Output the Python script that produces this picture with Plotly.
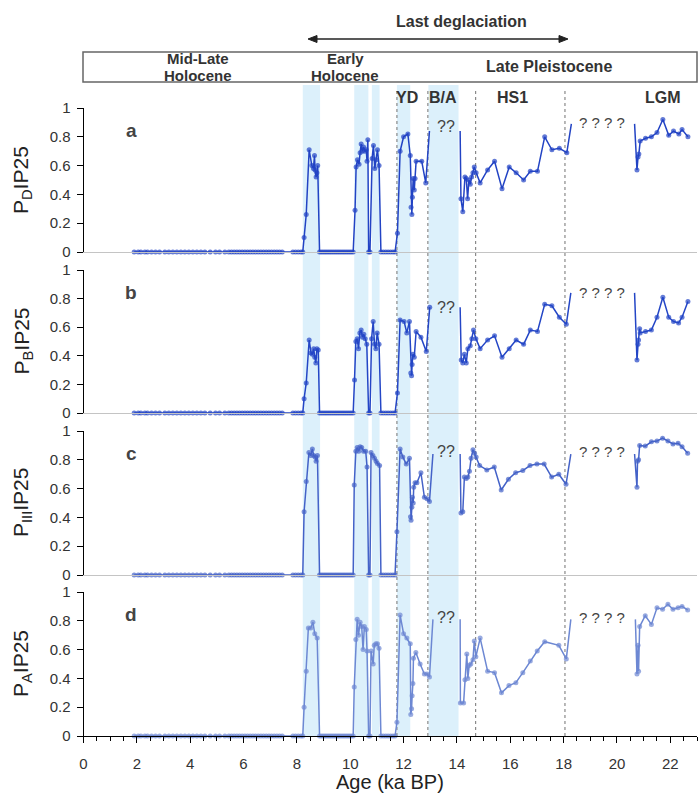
import plotly.graph_objects as go

W, H = 699, 794

# ---------------- data (ages in ka BP) ----------------
zero_age_1 = [1.9, 2.05, 2.15, 2.3, 2.4, 2.55, 2.7, 2.85, 3.05, 3.2, 3.35, 3.5, 3.65, 3.8, 3.95,
              4.1, 4.25, 4.4, 4.55, 4.75, 4.95, 5.1, 5.3, 5.45, 5.55, 5.65, 5.75, 5.85, 5.95,
              6.05, 6.15, 6.25, 6.35, 6.45, 6.55, 6.65, 6.75, 6.85, 6.95, 7.05, 7.15, 7.25,
              7.35, 7.45, 7.85, 7.95, 8.05, 8.15, 8.22]
zero_age_2 = [8.85, 8.92, 8.99, 9.06, 9.13, 9.2, 9.27, 9.34, 9.41, 9.48, 9.55, 9.62, 9.69,
              9.76, 9.83, 9.9, 9.97, 10.04, 10.11]
zero_age_3 = [10.69, 10.74]
zero_age_4 = [11.15, 11.24, 11.33, 11.42, 11.51, 11.6, 11.68]

# Panel a: PDIP25
a_p1_age = [8.27, 8.35, 8.46, 8.56, 8.62, 8.66, 8.68, 8.72, 8.75, 8.78]
a_p1_val = [0.10, 0.26, 0.71, 0.60, 0.58, 0.67, 0.57, 0.52, 0.55, 0.60]
a_p2_age = [10.18, 10.22, 10.27, 10.33, 10.37, 10.41, 10.45, 10.50, 10.55, 10.60, 10.63, 10.66]
a_p2_val = [0.29, 0.59, 0.64, 0.61, 0.69, 0.75, 0.70, 0.73, 0.70, 0.71, 0.63, 0.78]
a_p3_age = [10.82, 10.87, 10.92, 10.97, 11.02, 11.08]
a_p3_val = [0.65, 0.74, 0.58, 0.64, 0.71, 0.60]
a_yd_age = [11.77, 11.87, 12.00, 12.16, 12.25, 12.28, 12.31, 12.33, 12.36, 12.40, 12.43, 12.47,
            12.68, 12.83, 12.97]
a_yd_val = [0.13, 0.70, 0.80, 0.82, 0.67, 0.31, 0.26, 0.38, 0.51, 0.43, 0.51, 0.63, 0.63, 0.48, 0.84]
a_hs_age = [14.12, 14.15, 14.22, 14.30, 14.35, 14.40, 14.45, 14.50, 14.55, 14.60, 14.65, 14.72,
            14.87, 15.15, 15.41, 15.69, 15.96, 16.22, 16.50, 16.75, 17.02, 17.29, 17.56, 17.84,
            18.12, 18.29]
a_hs_val = [0.84, 0.37, 0.28, 0.52, 0.51, 0.37, 0.50, 0.47, 0.52, 0.55, 0.59, 0.55, 0.48, 0.57,
            0.63, 0.44, 0.59, 0.55, 0.50, 0.56, 0.56, 0.80, 0.71, 0.72, 0.69, 0.89]
a_lgm_age = [20.66, 20.75, 20.79, 20.82, 20.87, 21.07, 21.29, 21.50, 21.72, 21.94, 22.12, 22.32,
             22.44, 22.66]
a_lgm_val = [0.89, 0.57, 0.66, 0.68, 0.77, 0.79, 0.80, 0.83, 0.92, 0.81, 0.84, 0.82, 0.85, 0.80]
a_open_ends = [12.97, 14.12, 18.29, 20.66]

# Panel b: PBIP25
b_p1_age = [8.27, 8.35, 8.46, 8.53, 8.58, 8.63, 8.67, 8.71, 8.75, 8.80]
b_p1_val = [0.10, 0.21, 0.51, 0.42, 0.41, 0.45, 0.39, 0.35, 0.45, 0.44]
b_p2_age = [10.16, 10.21, 10.26, 10.31, 10.36, 10.41, 10.46, 10.51, 10.56, 10.62]
b_p2_val = [0.23, 0.50, 0.52, 0.45, 0.56, 0.58, 0.53, 0.55, 0.52, 0.48]
b_p3_age = [10.80, 10.86, 10.91, 10.96, 11.01, 11.08]
b_p3_val = [0.52, 0.64, 0.48, 0.45, 0.56, 0.48]
b_yd_age = [11.77, 11.87, 12.02, 12.12, 12.22, 12.27, 12.30, 12.32, 12.35, 12.40, 12.47, 12.65,
            12.85, 12.98]
b_yd_val = [0.14, 0.65, 0.64, 0.56, 0.64, 0.28, 0.26, 0.34, 0.41, 0.39, 0.57, 0.53, 0.43, 0.74]
b_hs_age = [14.12, 14.16, 14.22, 14.28, 14.35, 14.41, 14.50, 14.56, 14.62, 14.71, 14.87, 15.15,
            15.41, 15.69, 15.96, 16.22, 16.50, 16.75, 17.02, 17.29, 17.56, 17.84, 18.10, 18.27]
b_hs_val = [0.74, 0.37, 0.35, 0.41, 0.35, 0.45, 0.47, 0.52, 0.58, 0.52, 0.45, 0.51, 0.54, 0.39,
            0.45, 0.51, 0.48, 0.58, 0.57, 0.76, 0.75, 0.67, 0.62, 0.84]
b_lgm_age = [20.66, 20.75, 20.79, 20.81, 20.85, 20.87, 21.07, 21.29, 21.50, 21.72, 21.94, 22.12,
             22.31, 22.44, 22.66]
b_lgm_val = [0.84, 0.37, 0.48, 0.51, 0.59, 0.56, 0.57, 0.58, 0.67, 0.81, 0.67, 0.64, 0.63, 0.67, 0.78]
b_open_ends = [14.12, 18.27, 20.66]

# Panel c: PIIIIP25
c_p1_age = [8.27, 8.35, 8.45, 8.52, 8.58, 8.63, 8.68, 8.72, 8.77]
c_p1_val = [0.44, 0.65, 0.85, 0.83, 0.875, 0.83, 0.82, 0.79, 0.83]
c_p2_age = [10.15, 10.21, 10.26, 10.32, 10.37, 10.43, 10.50, 10.58, 10.63]
c_p2_val = [0.625, 0.86, 0.885, 0.86, 0.89, 0.885, 0.86, 0.86, 0.75]
c_p3_age = [10.78, 10.85, 10.91, 10.97, 11.02, 11.10]
c_p3_val = [0.85, 0.83, 0.81, 0.79, 0.775, 0.76]
c_yd_age = [11.75, 11.87, 11.97, 12.10, 12.22, 12.26, 12.28, 12.31, 12.33, 12.36, 12.38, 12.43,
            12.50, 12.65, 12.78, 12.88, 12.97, 13.10]
c_yd_val = [0.30, 0.875, 0.82, 0.77, 0.81, 0.405, 0.38, 0.47, 0.54, 0.50, 0.61, 0.64, 0.64, 0.71,
            0.54, 0.53, 0.51, 0.84]
c_hs_age = [14.12, 14.15, 14.22, 14.28, 14.35, 14.41, 14.47, 14.53, 14.60, 14.66, 14.72, 14.85,
            15.12, 15.40, 15.66, 15.93, 16.20, 16.47, 16.74, 17.00, 17.27, 17.55, 17.82, 18.09, 18.27]
c_hs_val = [0.84, 0.43, 0.44, 0.68, 0.67, 0.68, 0.72, 0.81, 0.87, 0.845, 0.82, 0.76, 0.73, 0.75,
            0.59, 0.665, 0.71, 0.725, 0.76, 0.77, 0.77, 0.68, 0.70, 0.63, 0.84]
c_lgm_age = [20.66, 20.75, 20.77, 20.81, 20.85, 21.06, 21.29, 21.50, 21.71, 21.91, 22.10, 22.29,
             22.44, 22.65]
c_lgm_val = [0.84, 0.61, 0.79, 0.80, 0.90, 0.895, 0.925, 0.93, 0.95, 0.93, 0.91, 0.915, 0.89, 0.845]
c_open_ends = [13.10, 14.12, 18.27, 20.66]

# Panel d: PAIP25
d_p1_age = [8.27, 8.35, 8.43, 8.52, 8.60, 8.67, 8.76]
d_p1_val = [0.20, 0.45, 0.75, 0.75, 0.79, 0.71, 0.68]
d_p2_age = [10.15, 10.21, 10.26, 10.31, 10.37, 10.43, 10.48, 10.53, 10.60, 10.63]
d_p2_val = [0.34, 0.67, 0.81, 0.70, 0.79, 0.76, 0.60, 0.76, 0.74, 0.59]
d_p3_age = [10.78, 10.86, 10.90, 10.96, 11.02, 11.08]
d_p3_val = [0.59, 0.50, 0.63, 0.64, 0.64, 0.61]
d_yd_age = [11.75, 11.87, 12.00, 12.12, 12.25, 12.27, 12.30, 12.32, 12.35, 12.37, 12.46, 12.62,
            12.78, 12.88, 12.97, 13.10]
d_yd_val = [0.095, 0.84, 0.71, 0.68, 0.64, 0.15, 0.19, 0.28, 0.365, 0.54, 0.58, 0.50, 0.43, 0.43,
            0.41, 0.81]
d_hs_age = [14.12, 14.13, 14.25, 14.30, 14.37, 14.41, 14.46, 14.52, 14.60, 14.65, 14.71, 14.87,
            15.15, 15.41, 15.67, 15.95, 16.21, 16.47, 16.75, 17.01, 17.29, 17.82, 18.10, 18.27]
d_hs_val = [0.81, 0.23, 0.23, 0.39, 0.57, 0.40, 0.49, 0.50, 0.53, 0.66, 0.55, 0.68, 0.45, 0.44,
            0.30, 0.35, 0.37, 0.44, 0.52, 0.59, 0.655, 0.63, 0.535, 0.81]
d_lgm_age = [20.69, 20.75, 20.79, 20.81, 20.85, 21.06, 21.29, 21.50, 21.71, 21.91, 22.10, 22.29,
             22.44, 22.65]
d_lgm_val = [0.81, 0.43, 0.63, 0.45, 0.76, 0.835, 0.775, 0.89, 0.88, 0.915, 0.88, 0.89, 0.90, 0.875]
d_open_ends = [13.10, 14.12, 18.27, 20.69]

# age-control points (triangles)
tri_age = [1.95, 3.1, 4.37, 5.87, 7.1, 7.93, 8.05, 8.2, 8.87, 9.0, 9.55, 9.7, 9.9, 10.6, 10.75,
           10.87, 11.0, 11.2, 11.4, 11.6, 12.25, 12.4, 12.6, 12.9, 13.1, 13.3, 14.0, 14.4, 14.5,
           14.6, 14.7, 14.9, 15.35, 16.2, 16.7, 17.5, 20.4, 22.7]

# climate intervals
bands = [(8.22, 8.87), (10.15, 10.68), (10.81, 11.10), (11.75, 12.25), (12.93, 14.06)]
boundaries = [11.75, 12.91, 14.70, 18.05]

panel_letters = ["a", "b", "c", "d"]
panel_titles = ["P<sub>D</sub>IP25", "P<sub>B</sub>IP25", "P<sub>III</sub>IP25", "P<sub>A</sub>IP25"]
panel_colors = ["#2243c4", "#2446c6", "#4462c8", "#6d88d3"]
q2_y = [0.875, 0.74, 0.86, 0.82]
q4_y = [0.90, 0.845, 0.86, 0.82]

x_ticks = [0, 2, 4, 6, 8, 10, 12, 14, 16, 18, 20, 22]
y_ticks = [0, 0.2, 0.4, 0.6, 0.8, 1]

# ---------------- figure ----------------
FONT = "Liberation Sans, Arial, sans-serif"


def xp(px):
    return px / W


def yp(py):
    return 1 - py / H


# panel pixel geometry: (y of value 0, y of value 1)
panel_px = [(252, 108), (413, 270), (575, 431), (736, 592)]

series = [
    (a_p1_age, a_p1_val, a_p2_age, a_p2_val, a_p3_age, a_p3_val, a_yd_age, a_yd_val,
     a_hs_age, a_hs_val, a_lgm_age, a_lgm_val, a_open_ends),
    (b_p1_age, b_p1_val, b_p2_age, b_p2_val, b_p3_age, b_p3_val, b_yd_age, b_yd_val,
     b_hs_age, b_hs_val, b_lgm_age, b_lgm_val, b_open_ends),
    (c_p1_age, c_p1_val, c_p2_age, c_p2_val, c_p3_age, c_p3_val, c_yd_age, c_yd_val,
     c_hs_age, c_hs_val, c_lgm_age, c_lgm_val, c_open_ends),
    (d_p1_age, d_p1_val, d_p2_age, d_p2_val, d_p3_age, d_p3_val, d_yd_age, d_yd_val,
     d_hs_age, d_hs_val, d_lgm_age, d_lgm_val, d_open_ends),
]

fig = go.Figure()
layout = dict(
    template="none",
    width=W, height=H, margin=dict(l=0, r=0, t=0, b=0, pad=0, autoexpand=False),
    paper_bgcolor="white", plot_bgcolor="rgba(0,0,0,0)",
    showlegend=False, font=dict(family=FONT, color="#333333"),
)

x_dom = [xp(83.5), xp(697)]
x_range = [0, 23.0]

annotations = []
CENTER = dict(xanchor="center", yanchor="middle", showarrow=False)
for i in range(4):
    (p1a, p1v, p2a, p2v, p3a, p3v, yda, ydv, hsa, hsv, lga, lgv, opens) = series[i]
    ages = (zero_age_1 + p1a + zero_age_2 + p2a + zero_age_3 + p3a + zero_age_4 + yda
            + [None] + hsa + [None] + lga)
    vals = ([0] * len(zero_age_1) + p1v + [0] * len(zero_age_2) + p2v + [0] * len(zero_age_3)
            + p3v + [0] * len(zero_age_4) + ydv + [None] + hsv + [None] + lgv)
    sizes = [0 if (a is not None and a in opens) else 5 for a in ages]
    sfx = "" if i == 0 else str(i + 1)
    fig.add_trace(go.Scatter(
        x=ages, y=vals, mode="lines+markers", connectgaps=False,
        line=dict(color=panel_colors[i], width=1.5),
        marker=dict(color=panel_colors[i], size=sizes, line=dict(width=0)),
        cliponaxis=False, xaxis="x" + sfx, yaxis="y" + sfx, hoverinfo="x+y",
    ))
    y0px, y1px = panel_px[i]
    last = (i == 3)
    xa = dict(domain=x_dom, range=x_range, anchor="y" + sfx, showgrid=False, zeroline=False,
              automargin=False,
              showline=True, linecolor="black" if last else "#c4c4c4", linewidth=1,
              showticklabels=last, ticks="outside" if last else "",
              tickvals=x_ticks, ticklen=6, tickcolor="black", tickwidth=1,
              tickfont=dict(size=15, color="#333333"), ticklabelstandoff=8)
    if last:
        xa["minor"] = dict(dtick=0.5, tick0=0, ticks="outside", ticklen=4, tickcolor="black",
                           showgrid=False)
    else:
        xa["matches"] = "x4"
    ya = dict(domain=[yp(y0px), yp(y1px)], range=[0, 1], anchor="x" + sfx, showgrid=False,
              automargin=False,
              zeroline=False, showline=True, linecolor="black", linewidth=1, ticks="outside",
              tickvals=y_ticks, ticklen=6, tickcolor="black", tickwidth=1,
              tickfont=dict(size=15, color="#333333"), ticklabelstandoff=3)
    layout["xaxis" + sfx] = xa
    layout["yaxis" + sfx] = ya

    # y titles
    annotations.append(dict(CENTER, text=panel_titles[i], x=xp(22), y=yp((y0px + y1px) / 2),
                            xref="paper", yref="paper", textangle=-90,
                            font=dict(size=21, color="#222222")))
    # panel letters
    annotations.append(dict(CENTER, text="<b>" + panel_letters[i] + "</b>", x=xp(131),
                            y=yp(y1px + 22), xref="paper", yref="paper",
                            font=dict(size=19, color="#444444")))
    # question marks
    annotations.append(dict(CENTER, text="??", x=13.58, y=q2_y[i], xref="x" + sfx,
                            yref="y" + sfx, font=dict(size=16, color="#444444")))
    annotations.append(dict(CENTER, text="? ? ? ?", x=19.45, y=q4_y[i], xref="x" + sfx,
                            yref="y" + sfx, font=dict(size=15, color="#444444")))

# age-control triangles
fig.add_trace(go.Scatter(
    x=tri_age, y=[-0.062] * len(tri_age), mode="markers", cliponaxis=False,
    marker=dict(symbol="triangle-up", size=7, color="black", line=dict(width=0)),
    xaxis="x4", yaxis="y4", hoverinfo="x",
))

shapes = []
for b0, b1 in bands:
    shapes.append(dict(type="rect", xref="x4", yref="paper", x0=b0, x1=b1, y0=yp(736), y1=yp(85),
                       fillcolor="#dcf0fb", line=dict(width=0), layer="below"))
for bx in boundaries:
    shapes.append(dict(type="line", xref="x4", yref="paper", x0=bx, x1=bx, y0=yp(736), y1=yp(88),
                       line=dict(color="#8a8a8a", width=1.2, dash="dot"), layer="below"))
# header box
shapes.append(dict(type="rect", xref="paper", yref="paper", x0=xp(83), x1=xp(697),
                   y0=yp(82), y1=yp(52), line=dict(color="#666666", width=1.5),
                   fillcolor="rgba(0,0,0,0)"))
# double arrow for the last deglaciation
arr_y, arr_l, arr_r, head = 39, 308, 568, 9
shapes.append(dict(type="line", xref="paper", yref="paper", x0=xp(arr_l + 4), x1=xp(arr_r - 4),
                   y0=yp(arr_y), y1=yp(arr_y), line=dict(color="#222222", width=1.5)))
for tip, back in ((arr_l, arr_l + head), (arr_r, arr_r - head)):
    shapes.append(dict(type="path", xref="paper", yref="paper",
                       path=(f"M {xp(tip)} {yp(arr_y)} L {xp(back)} {yp(arr_y - 3.5)} "
                             f"L {xp(back)} {yp(arr_y + 3.5)} Z"),
                       fillcolor="#222222", line=dict(color="#222222", width=1)))

hdr = dict(CENTER, xref="paper", yref="paper", font=dict(size=16, color="#333333"))
hdr_small = dict(CENTER, xref="paper", yref="paper", font=dict(size=15, color="#333333"))
for txt, px, py in [("Mid-Late", 198, 58.5), ("Holocene", 198, 75.5), ("Early", 345, 58.5),
                    ("Holocene", 345, 75.5)]:
    annotations.append(dict(hdr_small, text="<b>" + txt + "</b>", x=xp(px), y=yp(py)))
for txt, px, py in [("Late Pleistocene", 549, 67),
                    ("YD", 407, 98), ("B/A", 443, 98), ("HS1", 512, 98), ("LGM", 663, 98),
                    ("Last deglaciation", 461, 22)]:
    annotations.append(dict(hdr, text="<b>" + txt + "</b>", x=xp(px), y=yp(py)))

annotations.append(dict(CENTER, text="Age (ka BP)", x=xp(390), y=yp(782), xref="paper",
                        yref="paper", font=dict(size=20, color="#222222")))

layout["shapes"] = shapes
layout["annotations"] = annotations
fig.update_layout(**layout)
fig.write_html(
    "out.html",
    config={"displayModeBar": False},
    post_script="document.body.style.margin='0';document.body.style.padding='0';"
                "document.body.style.overflow='hidden';",
)
